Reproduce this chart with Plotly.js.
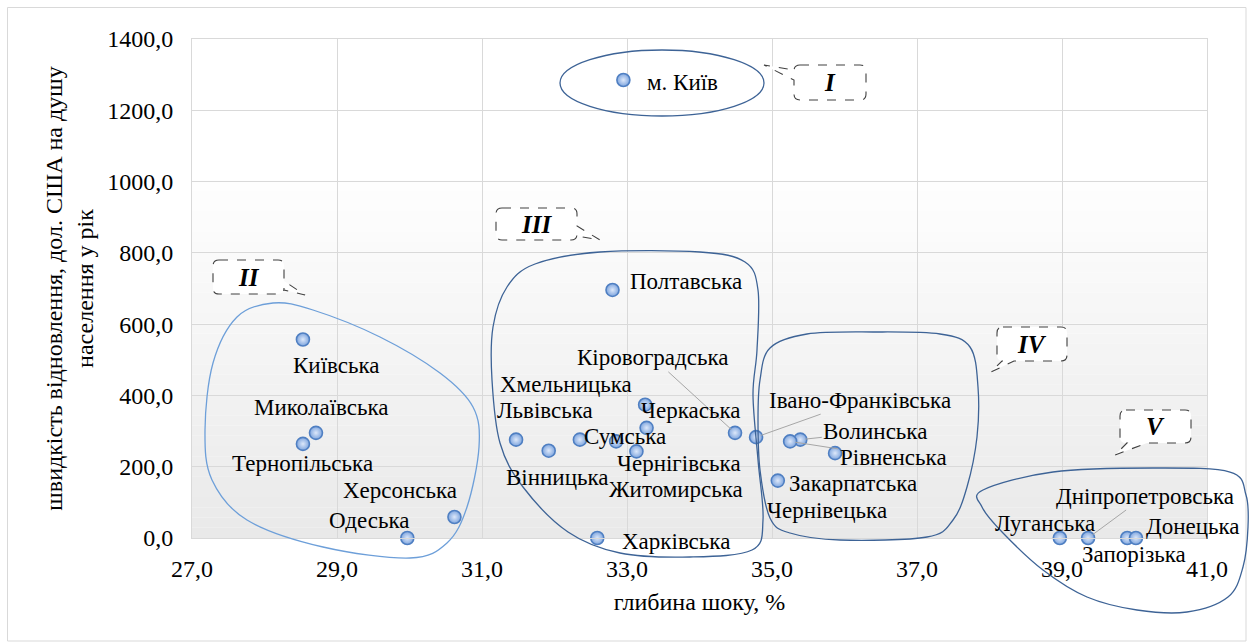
<!DOCTYPE html>
<html><head><meta charset="utf-8">
<script src="https://cdn.plot.ly/plotly-3.0.1.min.js"></script>
<style>html,body{margin:0;padding:0;background:#fff}#chart{width:1249px;height:644px}</style>
</head><body><div id="chart"></div>
<script>
// ---- data ----
const regions = ["м. Київ","Київська","Миколаївська","Тернопільська","Херсонська","Одеська",
  "Полтавська","Кіровоградська","Хмельницька","Львівська","Черкаська","Сумська","Чернігівська",
  "Вінницька","Житомирська","Харківська","Івано-Франківська","Волинська","Рівненська",
  "Закарпатська","Чернівецька","Луганська","Дніпропетровська","Запорізька","Донецька"];
const shockDepth = [32.95,28.53,28.71,28.53,30.62,29.97,
  32.80,34.49,33.25,31.47,33.27,32.35,33.13,
  31.92,32.85,32.59,34.78,35.39,35.25,
  35.08,35.87,38.97,39.36,39.90,40.02];
const recoverySpeed = [1285,557,295,264,59,0,
  696,295,374,276,309,276,243,
  245,271,0,283,276,271,
  161,238,0,0,0,0];
const clusterNames = ["I","II","III","IV","V"];
const xTitle = "глибина шоку, %";
const yTitle = "швидкість відновлення, дол. США на душу<br>населення у рік";

// ---- label placement (pixel offsets of label centre from its point; leader = grey line) ----
const labelOffsets = [[59,3],[34,26],[6,-25],[0,20],[-54,-26],[-38,-18],
  [73,-8],[-82,-75],[-79,-20],[29,-29],[44,-17],[45,-3],[43,12],
  [9,27],[60,48],[79,3],[104,-37],[75,-8],[103,16],
  [75,3],[-8,57],[-15,-15],[57,-42],[7,16],[57,-12]];
const leader = [0,0,0,0,0,0, 0,1,0,0,0,0,1, 0,0,0,1,1,1, 0,0,0,1,0,0];

// ---- geometry helpers (pixel -> paper) ----
const W=1249,H=644,ML=192,MR=42,MT=39,MB=106;
const PW=W-ML-MR, PH=H-MT-MB;
const fx=px=>(px-ML)/PW, fy=py=>(H-MB-py)/PH;
const P=(x,y)=>fx(x).toFixed(5)+","+fy(y).toFixed(5);
function smooth(pts){
  const n=pts.length; let d="M"+P(pts[0][0],pts[0][1]);
  for(let i=0;i<n;i++){
    const p0=pts[(i-1+n)%n],p1=pts[i],p2=pts[(i+1)%n],p3=pts[(i+2)%n];
    const c1=[p1[0]+(p2[0]-p0[0])/6,p1[1]+(p2[1]-p0[1])/6];
    const c2=[p2[0]-(p3[0]-p1[0])/6,p2[1]-(p3[1]-p1[1])/6];
    d+=" C"+P(c1[0],c1[1])+" "+P(c2[0],c2[1])+" "+P(p2[0],p2[1]);
  }
  return d+" Z";
}
function callout(x0,y0,x1,y1,r,side,a1,a2,tip){
  let d="M"+P(x0+r,y0)+" L"+P(x1-r,y0)+" Q"+P(x1,y0)+" "+P(x1,y0+r);
  if(side==="right") d+=" L"+P(x1,a1)+" L"+P(tip[0],tip[1])+" L"+P(x1,a2);
  d+=" L"+P(x1,y1-r)+" Q"+P(x1,y1)+" "+P(x1-r,y1);
  if(side==="bottom") d+=" L"+P(a2,y1)+" L"+P(tip[0],tip[1])+" L"+P(a1,y1);
  d+=" L"+P(x0+r,y1)+" Q"+P(x0,y1)+" "+P(x0,y1-r);
  if(side==="left") d+=" L"+P(x0,a2)+" L"+P(tip[0],tip[1])+" L"+P(x0,a1);
  d+=" L"+P(x0,y0+r)+" Q"+P(x0,y0)+" "+P(x0+r,y0)+" Z";
  return d;
}

const FONT='Liberation Serif, Times New Roman, serif';
const FS=24, LFS=23;
const shapes=[];
// plot-area gradient
const gTop=170, gBot=538, N=36;
for(let i=0;i<N;i++){
  const ya=gTop+(gBot-gTop)*i/N, yb=gTop+(gBot-gTop)*(i+1)/N;
  const t=(i+0.5)/N, v=Math.round(255-(255-233)*t);
  shapes.push({type:"rect",xref:"paper",yref:"paper",x0:0,x1:1,y0:fy(yb),y1:fy(ya),
    fillcolor:`rgb(${v},${v},${v})`,line:{width:0},layer:"below"});
}
// outer border
shapes.push({type:"rect",xref:"paper",yref:"paper",x0:fx(7.5),x1:fx(1246),y0:fy(641),y1:fy(7.5),
  line:{color:"#d9d9d9",width:1},fillcolor:"rgba(0,0,0,0)",layer:"below"});
// cluster outlines
const darkLoop={color:"#3d6396",width:1.3}, lightLoop={color:"#6d9fd9",width:1.3};
shapes.push({type:"circle",xref:"paper",yref:"paper",x0:fx(560),x1:fx(764),y0:fy(116),y1:fy(50),line:darkLoop});
shapes.push({type:"path",xref:"paper",yref:"paper",line:lightLoop,path:smooth([
  [205,430],[213,363],[237,317],[273,303],[313,310],[380,337],[440,373],[473,407],[479,447],
  [467,507],[447,543],[410,558],[323,547],[247,520],[212,480]])});
shapes.push({type:"path",xref:"paper",yref:"paper",line:darkLoop,path:smooth([
  [493,327],[507,287],[535,264],[600,252],[700,252],[745,262],[758,290],[757,350],[753,395],
  [758,460],[763,520],[752,550],[690,557],[620,553],[568,532],[523,487],[500,443],[492,380]])});
shapes.push({type:"path",xref:"paper",yref:"paper",line:darkLoop,path:smooth([
  [760,380],[770,348],[807,334],[873,332],[940,334],[970,347],[978,387],[977,437],[967,487],
  [953,520],[927,537],[840,540],[790,533],[770,518],[760,470],[758,420]])});
shapes.push({type:"path",xref:"paper",yref:"paper",line:darkLoop,path:smooth([
  [983,490],[1053,472],[1153,468],[1230,472],[1246,495],[1248,527],[1243,567],[1228,597],
  [1187,612],[1137,610],[1087,597],[1043,570],[1003,533],[982,507]])});
// callouts
const dashLine={color:"#404040",width:1.1,dash:"dash"};
const callouts=[
  [794,65,866,100,"left",70,80,[764,65]],
  [213,260,284,294,"right",281,290,[305,295]],
  [496,208,577,240,"right",226,236,[600,240]],
  [997,327,1067,361,"bottom",1002,1014,[991,372]],
  [1120,410,1191,443,"bottom",1127,1147,[1115,455]]];
callouts.forEach(c=>shapes.push({type:"path",xref:"paper",yref:"paper",line:dashLine,fillcolor:"#ffffff",
  path:callout(c[0],c[1],c[2],c[3],6,c[4],c[5],c[6],c[7])}));

const annotations=[];
callouts.forEach((c,i)=>annotations.push({xref:"paper",yref:"paper",x:fx((c[0]+c[2])/2),y:fy((c[1]+c[3])/2),
  xanchor:"center",yanchor:"middle",
  text:"<b><i>"+clusterNames[i]+"</i></b>",showarrow:false,font:{family:FONT,size:25,color:"#000"}}));
regions.forEach((r,i)=>{
  const [dx,dy]=labelOffsets[i];
  const a={x:shockDepth[i],y:recoverySpeed[i],xref:"x",yref:"y",text:r,xanchor:"center",yanchor:"middle",
    font:{family:FONT,size:LFS,color:"#000"}};
  if(leader[i]){Object.assign(a,{showarrow:true,arrowhead:0,arrowwidth:1,arrowcolor:"#a6a6a6",ax:dx,ay:dy,standoff:5});}
  else{Object.assign(a,{showarrow:false,xshift:dx,yshift:-dy});}
  annotations.push(a);
});

const trace={type:"scatter",mode:"markers",x:shockDepth,y:recoverySpeed,text:regions,cliponaxis:false,
  marker:{size:13,color:"#7ea5de",gradient:{type:"radial",color:"#dde8fa"},line:{color:"#4f7fc2",width:1.6}},
  hoverinfo:"text"};

const layout={width:W,height:H,margin:{l:ML,r:MR,t:MT,b:MB},showlegend:false,
  paper_bgcolor:"#ffffff",plot_bgcolor:"rgba(0,0,0,0)",separators:", ",
  font:{family:FONT,size:FS,color:"#000"},
  xaxis:{range:[27,41],dtick:2,tick0:27,tickformat:".1f",showgrid:true,gridcolor:"#d9d9d9",gridwidth:1,
    zeroline:false,showline:true,linecolor:"#d9d9d9",mirror:true,ticks:"",ticklabelstandoff:9,
    tickfont:{family:FONT,size:FS,color:"#000"},
    title:{text:xTitle,font:{family:FONT,size:FS,color:"#000"},standoff:12}},
  yaxis:{range:[0,1400],dtick:200,tickformat:".1f",showgrid:true,gridcolor:"#d9d9d9",gridwidth:1,
    zeroline:false,showline:true,linecolor:"#d9d9d9",mirror:true,ticks:"",ticklabelstandoff:13,
    tickfont:{family:FONT,size:FS,color:"#000"},
    title:{text:yTitle,font:{family:FONT,size:FS,color:"#000"},standoff:6}},
  shapes:shapes,annotations:annotations};
Plotly.newPlot("chart",[trace],layout,{displayModeBar:false,staticPlot:true});
</script></body></html>
